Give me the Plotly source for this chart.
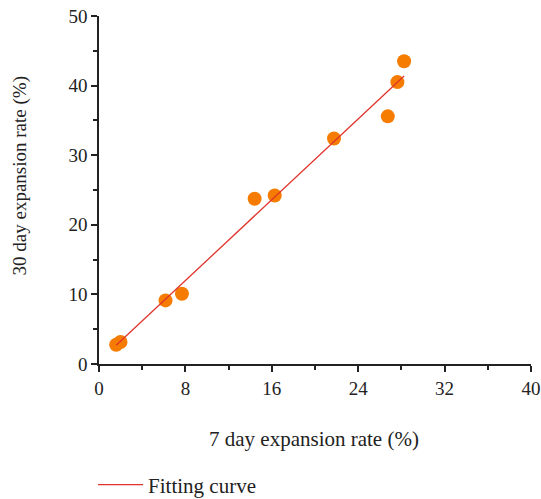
import numpy as np
import plotly.graph_objects as go

# Data
x7 = [1.59, 1.99, 6.16, 7.68, 14.41, 16.27, 21.76, 26.74, 27.63, 28.25]
y30 = [2.77, 3.16, 9.14, 10.1, 23.75, 24.2, 32.4, 35.58, 40.5, 43.5]
x_ticks = [0, 8, 16, 24, 32, 40]
y_ticks = [0, 10, 20, 30, 40, 50]

slope, intercept = np.polyfit(x7, y30, 1)
fit_x = [min(x7), max(x7)]
fit_y = [slope * v + intercept for v in fit_x]

FONT = "Liberation Serif"
INK = "#222"

fig = go.Figure()
fig.add_trace(go.Scatter(
    x=x7, y=y30, mode="markers",
    marker=dict(color="#F57C00", size=14, line=dict(width=0)),
    showlegend=False,
))
fig.add_trace(go.Scatter(
    x=fit_x, y=fit_y, mode="lines",
    line=dict(color="#E0332B", width=1.3),
    name="Fitting curve",
))

axis_common = dict(
    showgrid=False, zeroline=False, showline=True, linecolor=INK,
    linewidth=1.5, ticks="outside", ticklen=6, tickwidth=1.5, tickcolor=INK,
    tickfont=dict(family=FONT, size=19, color=INK),
    ticklabeloverflow="allow",
)
fig.update_xaxes(range=[0, 40], tickvals=x_ticks,
                 minor=dict(dtick=4, ticks="outside", ticklen=4, tickwidth=1.5, tickcolor=INK),
                 **axis_common)
fig.update_yaxes(range=[0, 50], tickvals=y_ticks,
                 minor=dict(dtick=5, ticks="outside", ticklen=4, tickwidth=1.5, tickcolor=INK),
                 **axis_common)

fig.add_annotation(text="7 day expansion rate (%)", xref="paper", yref="paper",
                   x=0.498, y=-0.215, showarrow=False, xanchor="center", yanchor="middle",
                   font=dict(family=FONT, size=21, color=INK))
fig.add_annotation(text="30 day expansion rate (%)", xref="paper", yref="paper",
                   x=-0.182, y=0.54, showarrow=False, textangle=-90,
                   xanchor="center", yanchor="middle",
                   font=dict(family=FONT, size=19, color=INK))

fig.update_layout(
    width=541, height=499,
    margin=dict(l=99, r=10, t=16, b=135, autoexpand=False),
    plot_bgcolor="white", paper_bgcolor="white",
    showlegend=True,
    legend=dict(xref="container", yref="container",
                x=0.172, y=0.028, xanchor="left", yanchor="middle",
                itemwidth=45,
                font=dict(family=FONT, size=21, color=INK),
                bgcolor="rgba(0,0,0,0)"),
)

fig.write_html("out.html",
               config={"displayModeBar": False},
               post_script="document.body.style.margin='0';document.body.style.overflow='hidden';")
